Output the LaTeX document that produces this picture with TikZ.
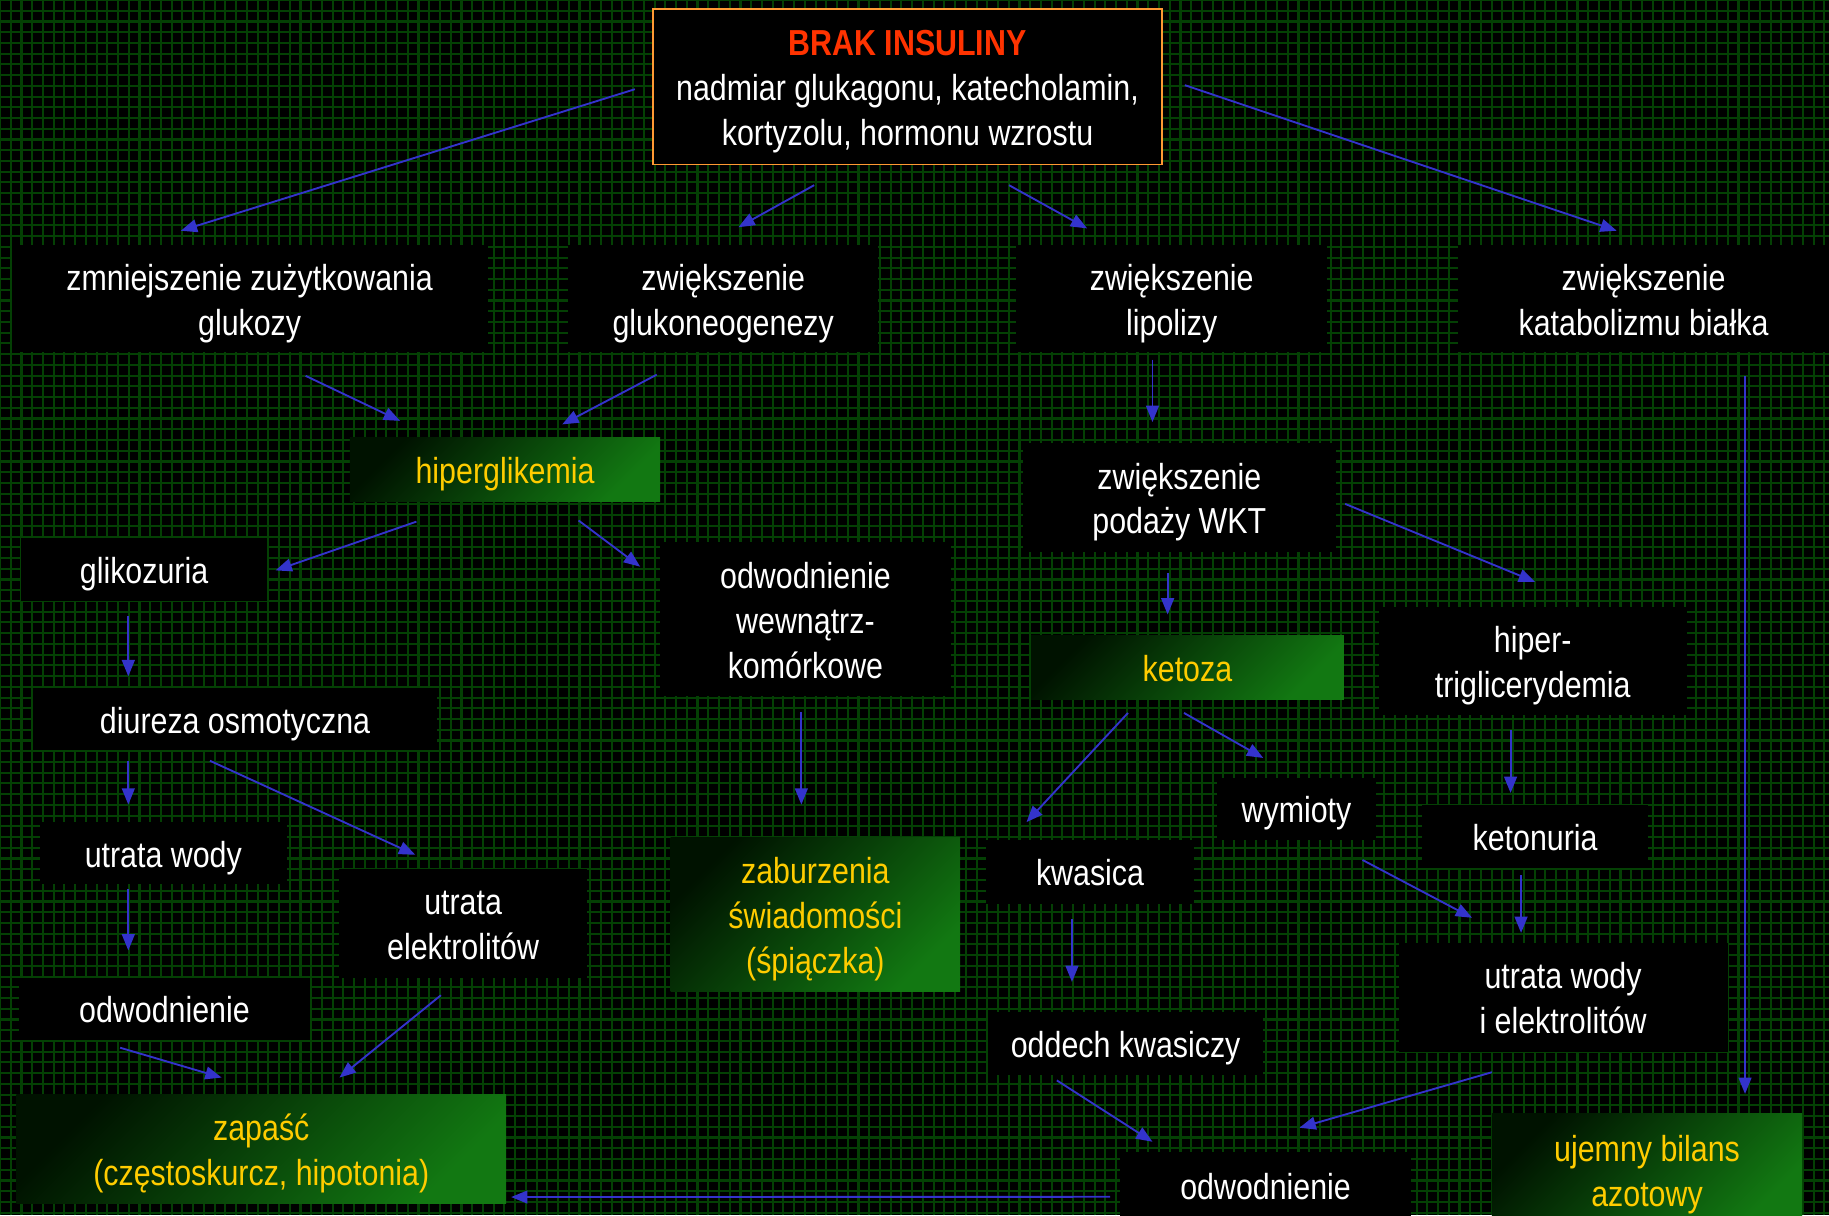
\documentclass[tikz,border=0pt]{standalone}
\usepackage{fontspec}
\setmainfont{Liberation Sans}[FakeStretch=0.84]
\usepackage{tikz}
\usetikzlibrary{positioning, arrows.meta, calc, shadings}
\definecolor{gridgreen}{RGB}{4,64,4}
\definecolor{arrowblue}{RGB}{51,51,204}
\definecolor{txtyellow}{RGB}{255,204,0}
\definecolor{brakred}{RGB}{255,51,0}
\definecolor{frameorange}{RGB}{255,153,51}
\definecolor{gdark}{RGB}{0,18,0}
\definecolor{gbright}{RGB}{18,120,18}

\begin{document}
\begin{tikzpicture}[x=1pt, y=-1pt,
    every node/.style={font=\fontsize{31}{38.5}\selectfont, align=center, inner sep=0pt,
        text height=31pt, text depth=7pt},
    two/.style={text height=69.5pt},
    three/.style={text height=108pt},
    bbox/.style={fill=black, text=white},
    gbox/.style={top color=gbright, bottom color=gdark, shading angle=-135, text=txtyellow},
    arr/.style={-{Triangle[length=14pt, width=11pt]}, arrowblue, line width=1.6pt}]

    \useasboundingbox (0,0) rectangle (1568,1042);
    \clip (0,0) rectangle (1568,1042);

    % tlo z kratka
    \fill[black] (0,0) rectangle (1568,1042);
    \draw[gridgreen, line width=1.8pt, step=9.2pt] (0,1042) grid (1568,0);

    % === GORA ===
    \node[bbox, three, draw=frameorange, line width=1.5pt, minimum width=436, minimum height=133] (top) at (778,74.5)
        {\textcolor{brakred}{\textbf{BRAK INSULINY}}\\nadmiar glukagonu, katecholamin,\\kortyzolu, hormonu wzrostu};

    % === PIERWSZY RZAD ===
    \node[bbox, two, minimum width=408, minimum height=92] (z1) at (214,256) {zmniejszenie zużytkowania\\glukozy};
    \node[bbox, two, minimum width=266, minimum height=92] (z2) at (620,256) {zwiększenie\\glukoneogenezy};
    \node[bbox, two, minimum width=267, minimum height=92] (z3) at (1004.5,256) {zwiększenie\\lipolizy};
    \node[bbox, two, minimum width=318, minimum height=92] (z4) at (1409,256) {zwiększenie\\katabolizmu białka};

    % === LEWA STRONA ===
    \node[gbox, minimum width=266, minimum height=55] (hiper) at (433,402.5) {hiperglikemia};
    \node[bbox, minimum width=211, minimum height=54] (glik) at (123.5,488) {glikozuria};
    \node[bbox, three, minimum width=249, minimum height=132] (odww) at (690.5,531) {odwodnienie\\wewnątrz-\\komórkowe};
    \node[bbox, minimum width=347, minimum height=53] (diureza) at (201.5,616.5) {diureza osmotyczna};
    \node[bbox, minimum width=212, minimum height=53] (utrwody) at (140,731.5) {utrata wody};
    \node[bbox, two, minimum width=212, minimum height=93] (utrel) at (397,791.5) {utrata\\elektrolitów};
    \node[gbox, three, minimum width=248, minimum height=132] (zabur) at (699,784) {zaburzenia\\świadomości\\(śpiączka)};
    \node[bbox, minimum width=250, minimum height=54] (odw1) at (141,865) {odwodnienie};
    \node[gbox, two, minimum width=420, minimum height=94] (zapasc) at (224,985) {zapaść\\(częstoskurcz, hipotonia)};

    % === PRAWA STRONA ===
    \node[bbox, two, minimum width=268, minimum height=93] (wkt) at (1011,426.5) {zwiększenie\\podaży WKT};
    \node[gbox, minimum width=268, minimum height=55] (ketoza) at (1018,572.5) {ketoza};
    \node[bbox, two, minimum width=264, minimum height=93] (hipertri) at (1314,566.5) {hiper-\\triglicerydemia};
    \node[bbox, minimum width=137, minimum height=53] (wymioty) at (1111.5,693.5) {wymioty};
    \node[bbox, minimum width=194, minimum height=54] (ketonuria) at (1316,717) {ketonuria};
    \node[bbox, minimum width=179, minimum height=55] (kwasica) at (934.5,747.5) {kwasica};
    \node[bbox, two, minimum width=282, minimum height=94] (utrwe) at (1340,855) {utrata wody\\i elektrolitów};
    \node[bbox, minimum width=236, minimum height=54] (oddech) at (965,895) {oddech kwasiczy};
    \node[bbox, minimum width=250, minimum height=56] (odw2) at (1085,1016) {odwodnienie};
    \node[gbox, two, minimum width=266, minimum height=96] (ujemny) at (1412,1003) {ujemny bilans\\azotowy};

    % === STRZALKI ===
    \draw[arr] ($(top.west)+(-15,2)$) -- ($(z1.north)+(-59,-12)$);
    \draw[arr] ($(top.south)+(-80,17)$) -- ($(z2.north)+(13,-15)$);
    \draw[arr] ($(top.south)+(87,17)$) -- ($(z3.north)+(-72.5,-14)$);
    \draw[arr] ($(top.east)+(19,-1.5)$) -- ($(z4.north)+(-23,-12)$);

    \draw[arr] ($(z1.south)+(48,20)$) -- ($(hiper.north)+(-90,-14)$);
    \draw[arr] ($(z2.south)+(-57,19)$) -- ($(hiper.north)+(49,-11)$);
    \draw[arr] ($(z3.south)+(-16.5,6)$) -- ($(wkt.north)+(-23,-18)$);
    \draw[arr] ($(z4.south)+(87,20)$) -- ($(ujemny.north)+(84,-17)$);

    \draw[arr] ($(hiper.south)+(-76,17)$) -- ($(glik.east)+(7,1)$);
    \draw[arr] ($(hiper.south)+(63,16)$) -- ($(odww.north west)+(-17,21)$);
    \draw[arr] ($(glik.south)+(-13.5,13)$) -- ($(diureza.north)+(-91.5,-10)$);
    \draw[arr] ($(diureza.south)+(-91.5,9)$) -- ($(utrwody.north)+(-30,-15)$);
    \draw[arr] ($(diureza.south)+(-21.5,9)$) -- ($(utrel.north)+(-41,-12)$);
    \draw[arr] ($(odww.south)+(-3.5,13)$) -- ($(zabur.north)+(-12,-28)$);
    \draw[arr] ($(utrwody.south)+(-30,4)$) -- ($(odw1.north)+(-31,-23)$);
    \draw[arr] ($(utrel.south)+(-19,15)$) -- ($(zapasc.north)+(67,-14)$);
    \draw[arr] ($(odw1.south)+(-38,6)$) -- ($(zapasc.north)+(-34,-14)$);

    \draw[arr] ($(wkt.south)+(-10,18)$) -- ($(ketoza.north)+(-17,-18)$);
    \draw[arr] ($(wkt.east)+(8,5.5)$) -- ($(hipertri.north)+(2,-21)$);
    \draw[arr] ($(ketoza.south)+(-51,11)$) -- ($(kwasica.north)+(-54.5,-15)$);
    \draw[arr] ($(ketoza.south)+(-3,11)$) -- ($(wymioty.north)+(-28.5,-17)$);
    \draw[arr] ($(hipertri.south)+(-19,13)$) -- ($(ketonuria.north)+(-21,-10)$);
    \draw[arr] ($(kwasica.south)+(-15.5,13)$) -- ($(oddech.north)+(-46,-26)$);
    \draw[arr] ($(wymioty.south)+(56.5,17)$) -- ($(utrwe.north)+(-78,-21)$);
    \draw[arr] ($(ketonuria.south)+(-12,6)$) -- ($(utrwe.north)+(-36,-8)$);
    \draw[arr] ($(oddech.south)+(-59,4)$) -- ($(odw2.north)+(-97,-9)$);
    \draw[arr] ($(utrwe.south)+(-61,17)$) -- ($(odw2.north)+(29,-21)$);
    \draw[arr] ($(odw2.west)+(-8,10)$) -- ($(zapasc.south east)+(4,-6)$);

\end{tikzpicture}
\end{document}
